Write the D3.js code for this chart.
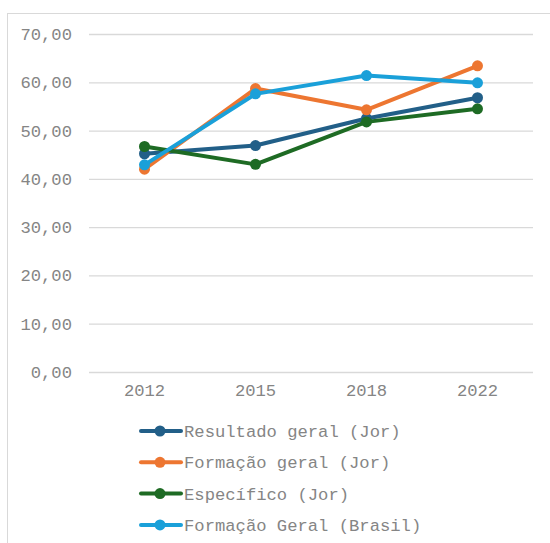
<!DOCTYPE html>
<html>
<head>
<meta charset="utf-8">
<script src="https://cdn.jsdelivr.net/npm/d3@7"></script>
<style>
  body { margin: 0; background: #fff; }
  text { font-family: "Courier New", "Liberation Mono", monospace; fill: #858585; }
</style>
</head>
<body>
<div id="chart"></div>
<script>
// chart size
let w = 550;
let h = 543;
let margin = {top: 34, right: 17, bottom: 171, left: 89};
let fontSize = "17.2px";

// data
let years = ["2012", "2015", "2018", "2022"];
let seriesNames = ["Resultado geral (Jor)", "Formação geral (Jor)", "Específico (Jor)", "Formação Geral (Brasil)"];
let resultadoGeral = [45.2, 46.9, 52.5, 56.8];
let formacaoGeral = [42.0, 58.7, 54.3, 63.4];
let especifico = [46.7, 43.0, 51.8, 54.5];
let formacaoBrasil = [42.9, 57.6, 61.4, 59.9];
let yTicks = [0, 10, 20, 30, 40, 50, 60, 70];
let colors = ["#225f88", "#ed7631", "#1e6b24", "#1aa0d9"];

let allSeries = [resultadoGeral, formacaoGeral, especifico, formacaoBrasil];

var svg = d3.select("#chart")
            .append("svg")
            .attr("width", w)
            .attr("height", h);

// outer frame (runs past the window on right and bottom)
svg.append("rect")
   .attr("x", 7.5)
   .attr("y", 13.5)
   .attr("width", 600)
   .attr("height", 600)
   .style("fill", "none")
   .style("stroke", "#d9d9d9");

var x = d3.scaleBand()
          .domain(years)
          .range([margin.left, w - margin.right]);

var y = d3.scaleLinear()
          .domain([0, 70])
          .range([h - margin.bottom, margin.top]);

var fmt = function(d) { return d3.format(".2f")(d).replace(".", ","); };

// gridlines + y labels
var yAxis = d3.axisLeft(y)
              .tickValues(yTicks)
              .tickFormat(fmt)
              .tickSize(-(w - margin.left - margin.right))
              .tickPadding(17);

var gy = svg.append("g")
            .attr("transform", "translate(" + margin.left + ",0)")
            .call(yAxis);
gy.select(".domain").remove();
gy.selectAll("line").style("stroke", "#d9d9d9").style("stroke-width", 1.3);
gy.selectAll("text").style("font-size", fontSize).style("fill", "#858585");

// x labels
var xAxis = d3.axisBottom(x).tickSize(0).tickPadding(12);
var gx = svg.append("g")
            .attr("transform", "translate(0," + (h - margin.bottom) + ")")
            .call(xAxis);
gx.select(".domain").remove();
gx.selectAll("text").style("font-size", fontSize).style("fill", "#858585");

var line = d3.line()
             .x(function(d, i) { return x(years[i]) + x.bandwidth() / 2; })
             .y(function(d) { return y(d); });

allSeries.forEach(function(vals, k) {
    svg.append("path")
       .datum(vals)
       .attr("d", line)
       .style("fill", "none")
       .style("stroke", colors[k])
       .style("stroke-width", 4)
       .style("stroke-linejoin", "round");

    svg.selectAll(".pt" + k)
       .data(vals)
       .enter()
       .append("circle")
       .attr("cx", function(d, i) { return x(years[i]) + x.bandwidth() / 2; })
       .attr("cy", function(d) { return y(d); })
       .attr("r", 5.5)
       .style("fill", colors[k]);
});

// legend
var legend = svg.append("g");
seriesNames.forEach(function(name, k) {
    var ly = 431 + k * 31.3;
    legend.append("line")
          .attr("x1", 141).attr("x2", 181)
          .attr("y1", ly).attr("y2", ly)
          .style("stroke", colors[k])
          .style("stroke-width", 4)
          .style("stroke-linecap", "round");
    legend.append("circle")
          .attr("cx", 160).attr("cy", ly)
          .attr("r", 5.5)
          .style("fill", colors[k]);
    legend.append("text")
          .attr("x", 184)
          .attr("y", ly)
          .attr("dy", "0.35em")
          .style("font-size", fontSize)
          .text(name);
});
</script>
</body>
</html>
